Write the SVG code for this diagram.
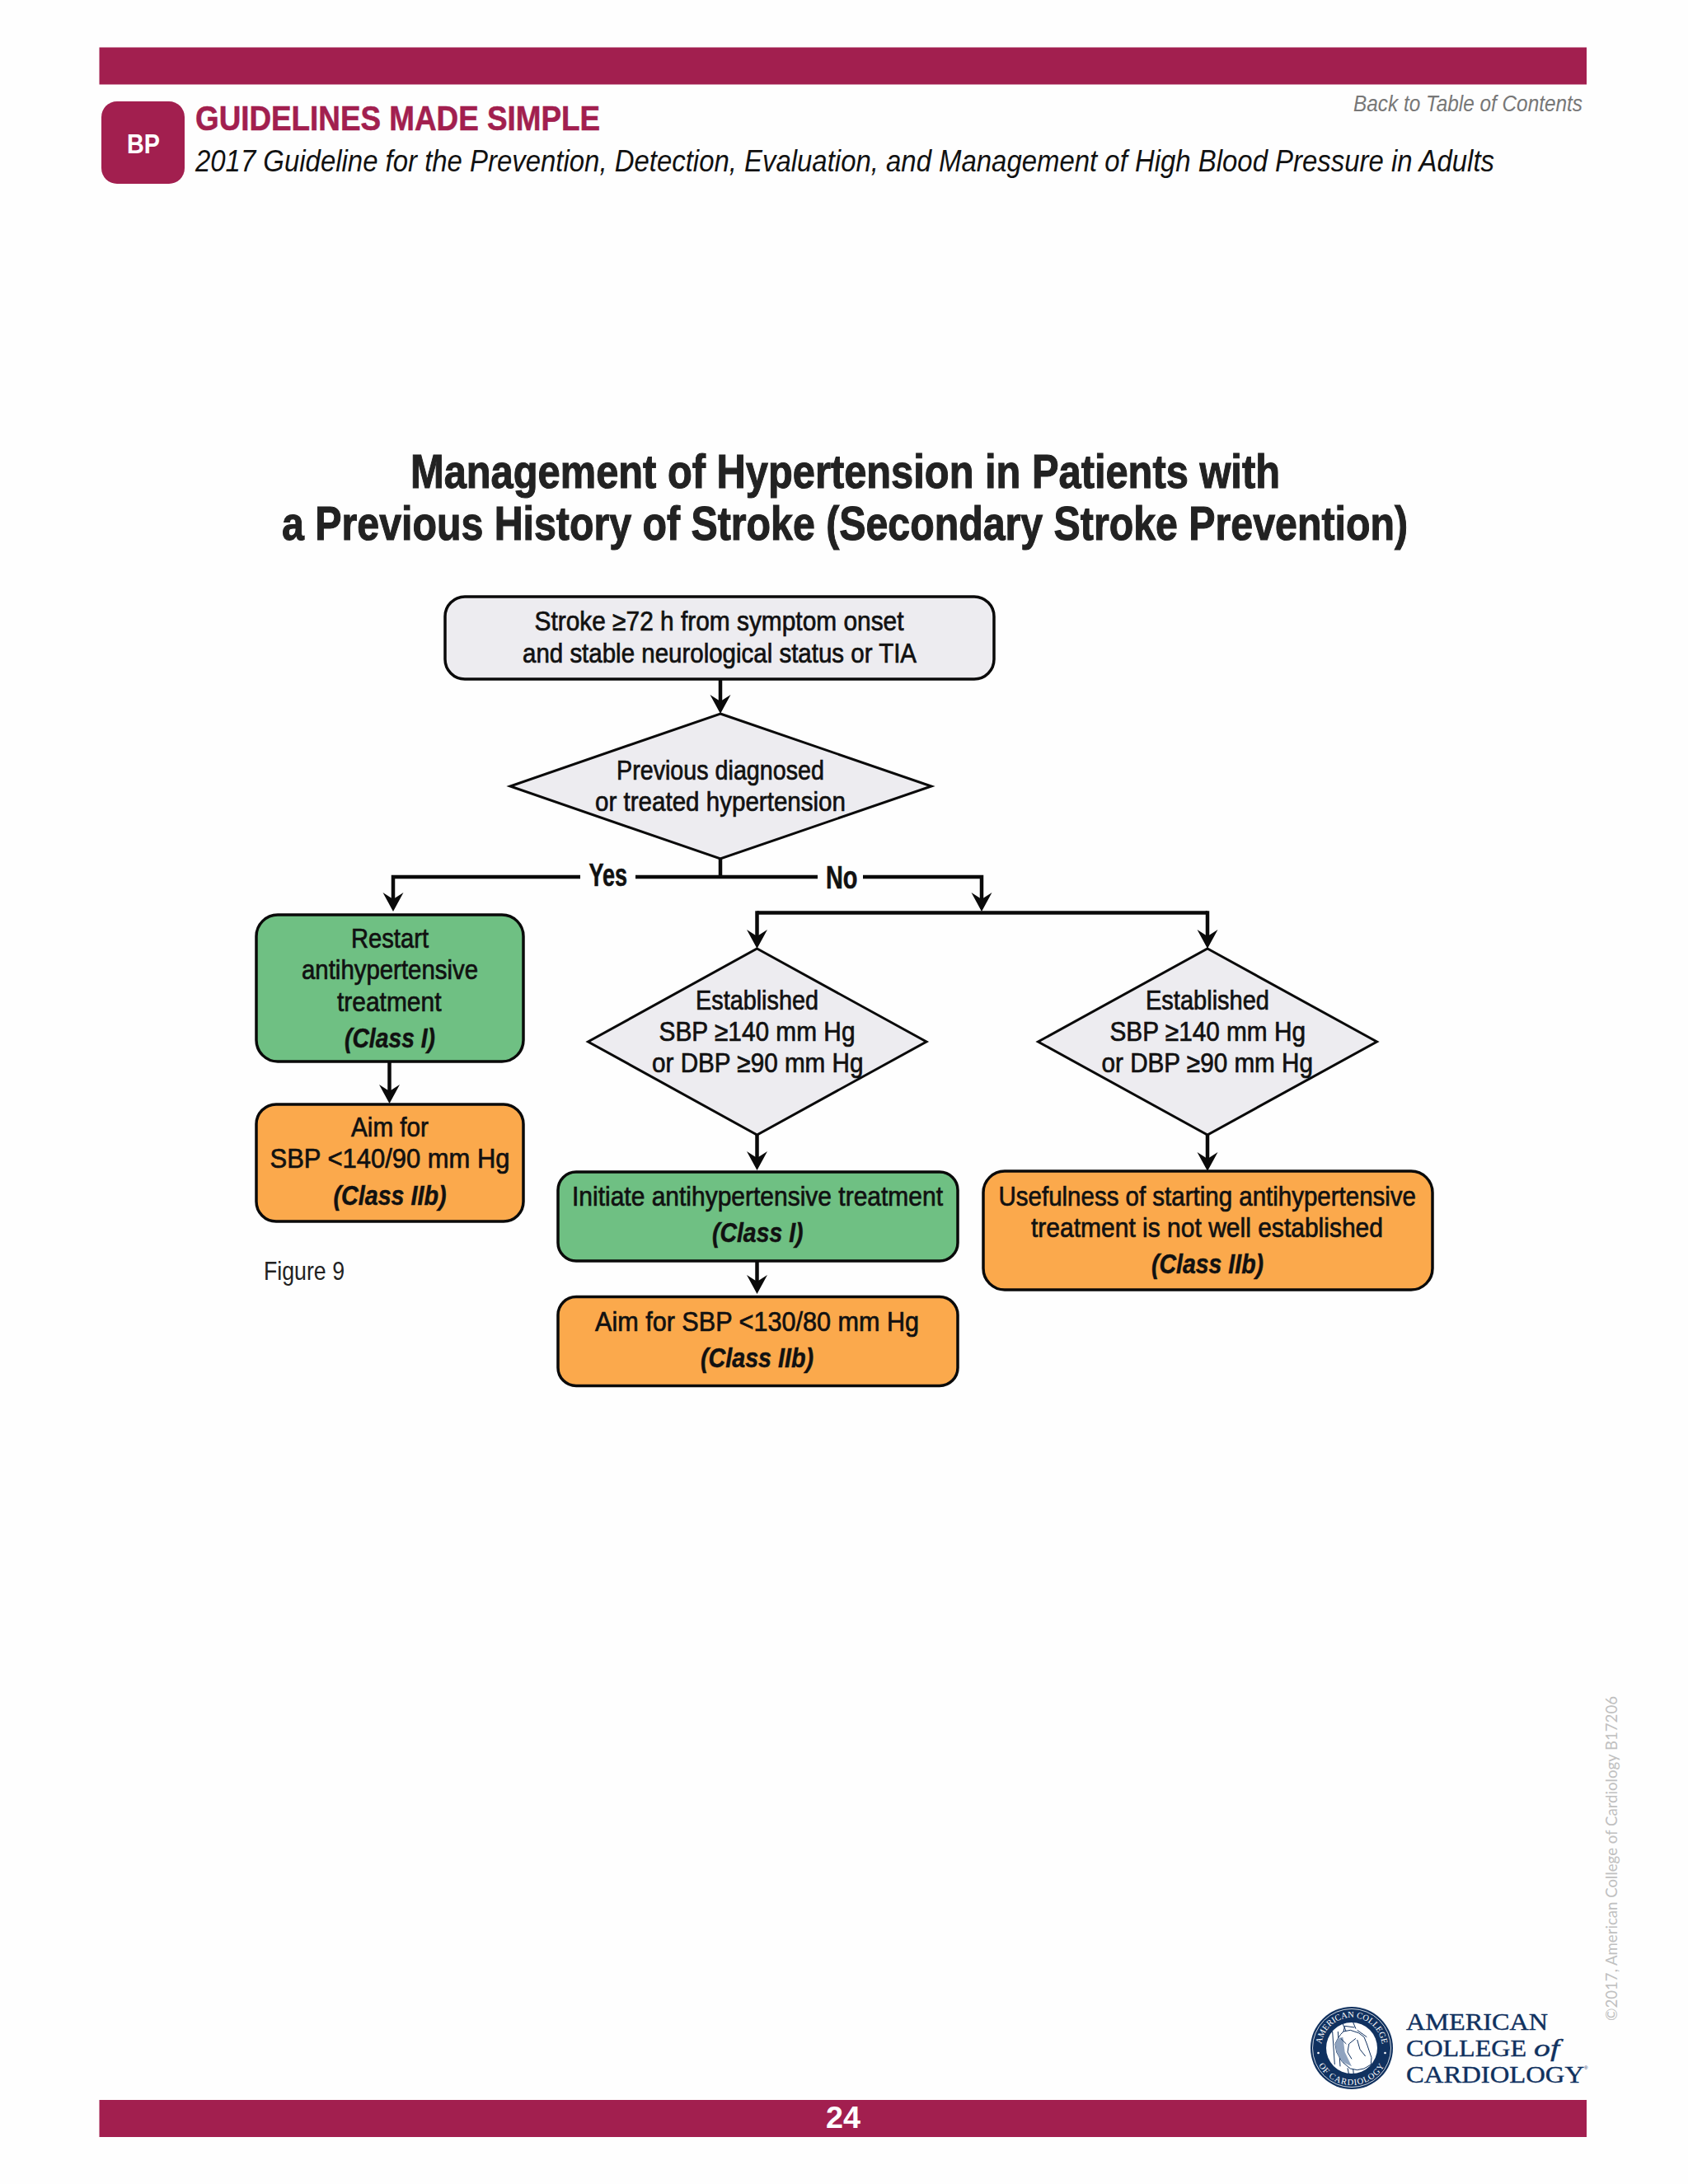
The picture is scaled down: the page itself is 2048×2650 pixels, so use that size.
<svg xmlns="http://www.w3.org/2000/svg" width="2048" height="2650" viewBox="0 0 2048 2650">
<style>
text{font-family:"Liberation Sans Narrow","Liberation Sans",Arial,sans-serif;fill:#111}
.t{font-size:33px;font-weight:400;stroke:#111;stroke-width:.7px}
.c{font-size:33px;font-weight:700;font-style:italic;stroke:#111;stroke-width:.5px}
.l{font-size:38px;font-weight:700;stroke:#111;stroke-width:.6px}
.h{font-size:58px;font-weight:700;fill:#222;stroke:#222;stroke-width:1.100px}
.box{stroke:#0a0a0a;stroke-width:3.5}
.gray{fill:#edecf0}.green{fill:#6fc083}.orange{fill:#fba94c}
.dia{stroke:#0a0a0a;stroke-width:3;fill:#edecf0}
.cn{fill:none;stroke:#0a0a0a;stroke-width:4.5}
.bar{fill:#a21f4f}
.logo{font-family:"Liberation Serif","DejaVu Serif",serif;fill:#10315f;font-size:30px;stroke:#10315f;stroke-width:.4px}
.ring{font-family:"Liberation Serif",serif;fill:#fff;font-size:10.5px}
.hl{fill:none;stroke:#10315f;stroke-width:3;stroke-linejoin:round}
</style>
<defs>
<marker id="ah" markerUnits="userSpaceOnUse" markerWidth="28" markerHeight="28" refX="18" refY="13.500" orient="auto"><path d="M23 13.500 L0 1 L8 13.500 L0 26 Z" fill="#0a0a0a"/></marker>
<path id="ringTop" d="M1640 2522 A37 37 0 0 1 1640 2448 A37 37 0 0 1 1640 2522"/>
<path id="ringBot" d="M1640 2440 A45 45 0 0 0 1640 2530 A45 45 0 0 0 1640 2440"/>
</defs>
<rect width="2048" height="2650" fill="#fefefe"/>
<g id="header">
<rect class="bar" x="120.500" y="57.500" width="1804.500" height="45"/>
<rect class="bar" x="123" y="123" width="101" height="100" rx="19"/>
<text x="154" y="186" font-size="33" font-weight="700" style="fill:#fff" textLength="40" lengthAdjust="spacingAndGlyphs">BP</text>
<text x="237" y="158" font-size="43" font-weight="700" style="fill:#a21f4f;stroke:#a21f4f;stroke-width:.6px" textLength="491" lengthAdjust="spacingAndGlyphs">GUIDELINES MADE SIMPLE</text>
<text x="237" y="208" font-size="36" font-style="italic" textLength="1576" lengthAdjust="spacingAndGlyphs">2017 Guideline for the Prevention, Detection, Evaluation, and Management of High Blood Pressure in Adults</text>
<text x="1642" y="135" font-size="27" font-style="italic" style="fill:#777" textLength="278" lengthAdjust="spacingAndGlyphs">Back to Table of Contents</text>
</g>
<g id="title">
<text class="h" x="498" y="592" textLength="1055" lengthAdjust="spacingAndGlyphs">Management of Hypertension in Patients with</text>
<text class="h" x="342" y="655" textLength="1366" lengthAdjust="spacingAndGlyphs">a Previous History of Stroke (Secondary Stroke Prevention)</text>
</g>
<g id="connectors">
<path class="cn" d="M874 824V861" marker-end="url(#ah)"/>
<path class="cn" d="M874 1042V1064"/>
<path class="cn" d="M704 1064H477V1101" marker-end="url(#ah)"/>
<path class="cn" d="M771 1064H992"/>
<path class="cn" d="M1047 1064H1191V1101" marker-end="url(#ah)"/>
<path class="cn" d="M918.500 1107.500H1465"/>
<path class="cn" d="M918.500 1105.300V1146" marker-end="url(#ah)"/>
<path class="cn" d="M1465 1105.300V1146" marker-end="url(#ah)"/>
<path class="cn" d="M472.500 1288V1334" marker-end="url(#ah)"/>
<path class="cn" d="M918.500 1377V1415" marker-end="url(#ah)"/>
<path class="cn" d="M1465 1377V1416" marker-end="url(#ah)"/>
<path class="cn" d="M918.500 1530V1565" marker-end="url(#ah)"/>
</g>
<g id="n-stroke">
<rect class="box gray" x="540" y="724" width="666" height="100" rx="24"/>
<text class="t" x="648.500" y="765" textLength="448" lengthAdjust="spacingAndGlyphs">Stroke ≥72 h from symptom onset</text>
<text class="t" x="634" y="804" textLength="478" lengthAdjust="spacingAndGlyphs">and stable neurological status or TIA</text>
</g>
<g id="n-previous">
<polygon class="dia" points="874,866 1130,954 874,1042 619,954"/>
<text class="t" x="748" y="946" textLength="252" lengthAdjust="spacingAndGlyphs">Previous diagnosed</text>
<text class="t" x="722" y="984" textLength="304" lengthAdjust="spacingAndGlyphs">or treated hypertension</text>
</g>
<g id="l-yes"><text class="l" x="714.500" y="1075" textLength="46.500" lengthAdjust="spacingAndGlyphs">Yes</text></g>
<g id="l-no"><text class="l" x="1002" y="1078" textLength="38.500" lengthAdjust="spacingAndGlyphs">No</text></g>
<g id="n-restart">
<rect class="box green" x="311" y="1110" width="324" height="178" rx="26"/>
<text class="t" x="426" y="1150" textLength="94" lengthAdjust="spacingAndGlyphs">Restart</text>
<text class="t" x="366" y="1188" textLength="214" lengthAdjust="spacingAndGlyphs">antihypertensive</text>
<text class="t" x="409" y="1227" textLength="126.500" lengthAdjust="spacingAndGlyphs">treatment</text>
<text class="c" x="418" y="1271" textLength="110" lengthAdjust="spacingAndGlyphs">(Class I)</text>
</g>
<g id="n-aim-left">
<rect class="box orange" x="311" y="1340" width="324" height="142" rx="24"/>
<text class="t" x="426" y="1379" textLength="94" lengthAdjust="spacingAndGlyphs">Aim for</text>
<text class="t" x="327.500" y="1417" textLength="291" lengthAdjust="spacingAndGlyphs">SBP &lt;140/90 mm Hg</text>
<text class="c" x="404.500" y="1462" textLength="137" lengthAdjust="spacingAndGlyphs">(Class IIb)</text>
</g>
<g id="n-est-left">
<polygon class="dia" points="918.500,1151 1124,1264 918.500,1377 713.500,1264"/>
<text class="t" x="844" y="1225" textLength="149" lengthAdjust="spacingAndGlyphs">Established</text>
<text class="t" x="799.500" y="1263" textLength="238" lengthAdjust="spacingAndGlyphs">SBP ≥140 mm Hg</text>
<text class="t" x="791" y="1301" textLength="256.500" lengthAdjust="spacingAndGlyphs">or DBP ≥90 mm Hg</text>
</g>
<g id="n-est-right">
<polygon class="dia" points="1465,1151 1670.500,1264 1465,1377 1259.500,1264"/>
<text class="t" x="1390" y="1225" textLength="150" lengthAdjust="spacingAndGlyphs">Established</text>
<text class="t" x="1346.500" y="1263" textLength="237.500" lengthAdjust="spacingAndGlyphs">SBP ≥140 mm Hg</text>
<text class="t" x="1336.500" y="1301" textLength="256.500" lengthAdjust="spacingAndGlyphs">or DBP ≥90 mm Hg</text>
</g>
<g id="n-initiate">
<rect class="box green" x="677" y="1422" width="485" height="108" rx="22"/>
<text class="t" x="694" y="1463" textLength="450" lengthAdjust="spacingAndGlyphs">Initiate antihypertensive treatment</text>
<text class="c" x="864" y="1507" textLength="110.500" lengthAdjust="spacingAndGlyphs">(Class I)</text>
</g>
<g id="n-aim-mid">
<rect class="box orange" x="677" y="1573.500" width="485" height="108" rx="22"/>
<text class="t" x="722" y="1615" textLength="393" lengthAdjust="spacingAndGlyphs">Aim for SBP &lt;130/80 mm Hg</text>
<text class="c" x="850" y="1659" textLength="137" lengthAdjust="spacingAndGlyphs">(Class IIb)</text>
</g>
<g id="n-useful">
<rect class="box orange" x="1193" y="1421" width="545" height="144" rx="26"/>
<text class="t" x="1211.500" y="1463" textLength="506.500" lengthAdjust="spacingAndGlyphs">Usefulness of starting antihypertensive</text>
<text class="t" x="1251" y="1501" textLength="427" lengthAdjust="spacingAndGlyphs">treatment is not well established</text>
<text class="c" x="1397" y="1545" textLength="136" lengthAdjust="spacingAndGlyphs">(Class IIb)</text>
</g>
<g id="figure-label">
<text x="320" y="1553" font-size="32" style="fill:#222" textLength="98" lengthAdjust="spacingAndGlyphs">Figure 9</text>
</g>
<g id="copyright">
<text transform="translate(1962 2452) rotate(-90)" font-size="19" style="fill:#c0c0c0;font-family:Lato,'Liberation Sans',sans-serif" textLength="394" lengthAdjust="spacingAndGlyphs">©2017, American College of Cardiology B17206</text>
</g>
<g id="logo">
<circle cx="1640" cy="2485" r="50" fill="#10315f"/>
<circle cx="1640" cy="2485" r="47.500" fill="none" stroke="#fff" stroke-width=".8"/>
<circle cx="1640" cy="2485" r="31" fill="#fff"/>
<text class="ring"><textPath href="#ringTop" startOffset="50%" text-anchor="middle">AMERICAN COLLEGE</textPath></text>
<text class="ring"><textPath href="#ringBot" startOffset="50%" text-anchor="middle" letter-spacing="1">OF CARDIOLOGY</textPath></text>
<circle cx="1599.500" cy="2491" r="1.300" fill="#fff"/>
<circle cx="1680.500" cy="2491" r="1.300" fill="#fff"/>
<g transform="translate(1590 2430) scale(.33333)">
<path class="hl" d="M112 65L130 105M150 60L165 95M80 105L88 225M100 105L108 232M170 100L205 125M135 238L140 262M155 240L157 262" />
<path d="M100 130L110 115L120 105L145 100L175 110L195 125L205 150L222 200L220 225L195 240L170 245L145 240L115 215L95 180L90 150Z" fill="#fff" stroke="#10315f" stroke-width="3"/>
<path d="M100 130L118 125L125 180L150 232L115 215L95 180L90 150Z" fill="#8fa3bf"/>
<path class="hl" d="M165 130L140 150L135 180L150 205M170 135L180 170L200 195M110 130L130 150M120 105L125 85L160 90"/>
</g>
<text class="logo" x="1706" y="2463" textLength="172" lengthAdjust="spacingAndGlyphs">AMERICAN</text>
<text class="logo" x="1706" y="2495" textLength="146" lengthAdjust="spacingAndGlyphs">COLLEGE</text>
<text class="logo" x="1861" y="2495" font-style="italic" textLength="31" lengthAdjust="spacingAndGlyphs">of</text>
<text class="logo" x="1706" y="2527" textLength="216" lengthAdjust="spacingAndGlyphs">CARDIOLOGY</text>
<text x="1922" y="2511" font-size="6" style="fill:#10315f;font-family:'Liberation Sans'">®</text>
</g>
<g id="footer">
<rect class="bar" x="120.500" y="2548" width="1804.500" height="45"/>
<text x="1002" y="2582" font-size="36" font-weight="700" style="fill:#fff;font-family:'Liberation Sans'" textLength="42" lengthAdjust="spacingAndGlyphs">24</text>
</g>
</svg>
